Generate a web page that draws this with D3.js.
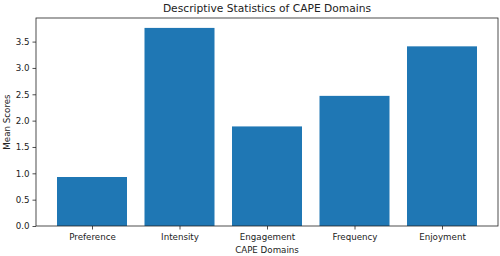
<!DOCTYPE html>
<html><head><meta charset="utf-8">
<script src="https://cdn.jsdelivr.net/npm/d3@7"></script>
<style>body{margin:0;background:#fff}svg{display:block}text{font-family:"DejaVu Sans",sans-serif;fill:#222}</style>
</head><body><svg id="c" width="500" height="256"></svg>
<script>
const categories = ["Preference","Intensity","Engagement","Frequency","Enjoyment"];
const meanScores = [0.93, 3.76, 1.89, 2.47, 3.41];
const yTicks = [0.0,0.5,1.0,1.5,2.0,2.5,3.0,3.5];

const svg = d3.select("#c");
const m = {l:36, r:498, t:18, b:226};
const x = d3.scaleLinear().domain([-0.64, 4.64]).range([m.l, m.r]);
const y = d3.scaleLinear().domain([0, d3.max(meanScores)*1.05]).range([m.b, m.t]);

svg.selectAll("rect.bar").data(meanScores).join("rect").attr("class","bar")
  .attr("x",(d,i)=>x(i-0.4)).attr("width",(d,i)=>x(i+0.4)-x(i-0.4))
  .attr("y",d=>y(d)).attr("height",d=>y(0)-y(d)).attr("fill","#1f77b4");

const xa = svg.append("g").attr("transform",`translate(0,${m.b})`)
  .call(d3.axisBottom(x).tickValues(d3.range(categories.length)).tickFormat(i=>categories[i]).tickSize(3.5).tickPadding(3));
const ya = svg.append("g").attr("transform",`translate(${m.l},0)`)
  .call(d3.axisLeft(y).tickValues(yTicks).tickFormat(d3.format(".1f")).tickSize(3.5).tickPadding(3));
[xa,ya].forEach(a=>{a.select(".domain").remove();a.selectAll("text").attr("font-size",8.7).attr("font-family","DejaVu Sans").attr("fill","#222");a.selectAll("line").attr("stroke","#222").attr("stroke-width",0.8);});
xa.selectAll("text").attr("dy","0.9em");

svg.append("rect").attr("x",m.l).attr("y",m.t).attr("width",m.r-m.l).attr("height",m.b-m.t)
  .attr("fill","none").attr("stroke","#222").attr("stroke-width",0.8);

svg.append("text").attr("x",(m.l+m.r)/2).attr("y",12).attr("text-anchor","middle").attr("font-size",10.7).text("Descriptive Statistics of CAPE Domains");
svg.append("text").attr("x",(m.l+m.r)/2).attr("y",253).attr("text-anchor","middle").attr("font-size",8.7).text("CAPE Domains");
svg.append("text").attr("transform",`translate(10,${(m.t+m.b)/2}) rotate(-90)`).attr("text-anchor","middle").attr("font-size",8.7).text("Mean Scores");
</script></body></html>
